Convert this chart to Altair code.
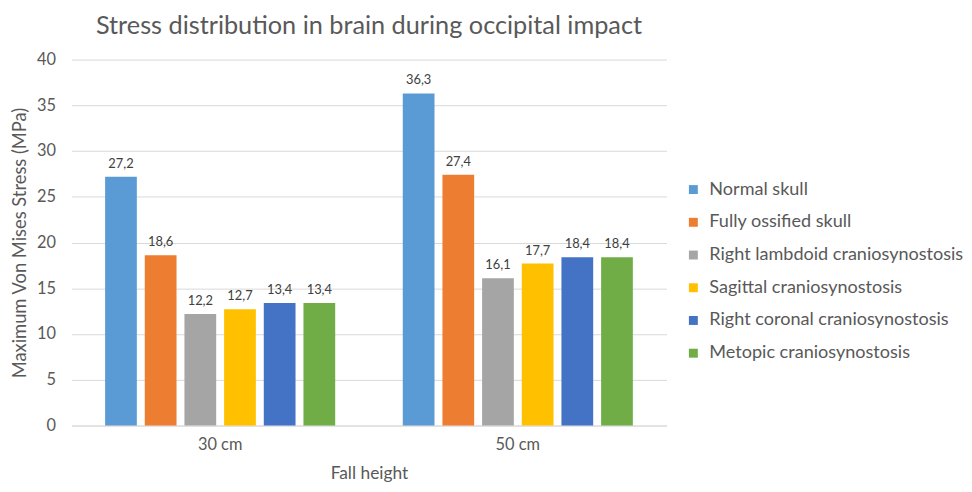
import altair as alt
import pandas as pd

groups = ["30 cm", "50 cm"]
series = [
    "Normal skull",
    "Fully ossified skull",
    "Right lambdoid craniosynostosis",
    "Sagittal craniosynostosis",
    "Right coronal craniosynostosis",
    "Metopic craniosynostosis",
]
values_30 = [27.2, 18.6, 12.2, 12.7, 13.4, 13.4]
values_50 = [36.3, 27.4, 16.1, 17.7, 18.4, 18.4]
colors = ["#5B9BD5", "#ED7D31", "#A5A5A5", "#FFC000", "#4472C4", "#70AD47"]

rows = []
for g, vals in zip(groups, [values_30, values_50]):
    for s, v in zip(series, vals):
        rows.append({"height": g, "model": s, "stress": v})
df = pd.DataFrame(rows)

FONT = "Lato"
GREY = "#595959"

x = alt.X("height:N", sort=groups, title="Fall height",
          scale=alt.Scale(paddingInner=0.227, paddingOuter=0.113),
          axis=alt.Axis(labelAngle=0, ticks=False, domain=True, domainColor="#D9D9D9",
                        labelFontSize=16.5, labelColor=GREY, labelPadding=11,
                        titleFontSize=17.5, titleColor=GREY, titlePadding=12,
                        titleFontWeight="normal"))
xo = alt.XOffset("model:N", sort=series, scale=alt.Scale(paddingInner=0.2, paddingOuter=0))

base = alt.Chart(df).encode(x=x, xOffset=xo)

bars = base.mark_bar().encode(
    y=alt.Y("stress:Q", title="Maximum Von Mises Stress (MPa)",
            scale=alt.Scale(domain=[0, 40]),
            axis=alt.Axis(values=list(range(0, 41, 5)), ticks=False, domain=False,
                          gridColor="#D9D9D9", labelFontSize=16.5, labelColor=GREY,
                          labelPadding=16, titleFontSize=18.5, titleColor=GREY,
                          titleFontWeight="normal", titlePadding=7)),
    color=alt.Color("model:N", sort=series, title=None,
                    scale=alt.Scale(domain=series, range=colors),
                    legend=alt.Legend(orient="none", legendX=618, legendY=122,
                                      symbolType="square", symbolSize=81,
                                      symbolStrokeWidth=0, labelFontSize=18.2,
                                      labelColor=GREY, rowPadding=14,
                                      labelOffset=7, labelLimit=400)),
)

labels = base.mark_text(dy=-13, fontSize=13, color="#404040", font=FONT).transform_calculate(
    lab="replace(format(datum.stress, '.1f'), '.', ',')"
).encode(y=alt.Y("stress:Q"), text="lab:N")

chart = (bars + labels).properties(
    width=600, height=369,
    padding={"left": 2, "top": 4, "right": 0, "bottom": 0},
    title=alt.TitleParams("Stress distribution in brain during occipital impact",
                          fontSize=25.5, color=GREY, font=FONT, fontWeight="normal",
                          offset=12),
).configure(font=FONT).configure_view(stroke=None)

chart.save("out.html", embed_options={"renderer": "svg", "actions": False})
